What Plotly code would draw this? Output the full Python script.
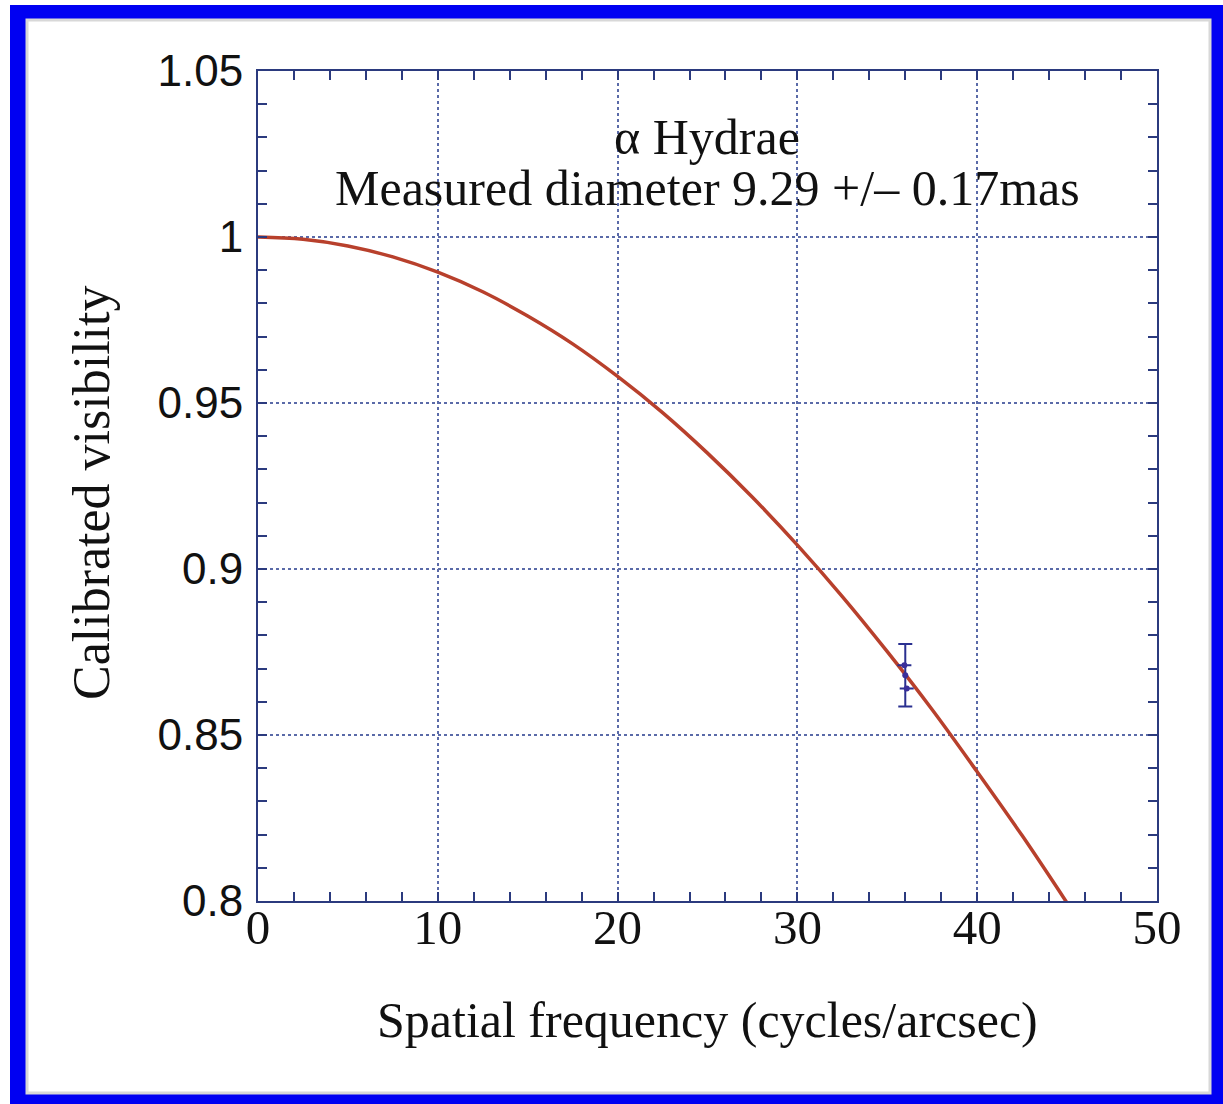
import plotly.graph_objects as go

# Model visibility curve
freq = [0, 2.5, 5, 7.5, 10, 12.5, 15, 17.5, 20, 22.5, 25, 27.5, 30, 32.5, 35, 37.5, 40, 42.5, 45]
vis = [1.000, 0.9993, 0.9973, 0.9940, 0.9894, 0.9835, 0.9762, 0.9678, 0.9580, 0.9471,
       0.9349, 0.9216, 0.9072, 0.8917, 0.8751, 0.8576, 0.8389, 0.8197, 0.7994]

# Measured points
meas_freq = [35.95, 36.0, 36.08]
meas_vis = [0.871, 0.868, 0.864]
meas_err = [0.0, 0.0094, 0.0]

title_lines = ["α Hydrae", "Measured diameter 9.29 +/– 0.17mas"]

W, H = 1223, 1104
L, R, T, B = 258, 66, 71, 203
pw, ph = W - L - R, H - T - B


def px(x):
    return (x - L) / pw


def py(y):
    return (H - B - y) / ph


fig = go.Figure()
fig.add_trace(go.Scatter(x=freq, y=vis, mode="lines", line=dict(color="#b8402c", width=3.5, shape="spline"),
                         hoverinfo="skip", showlegend=False))
fig.add_trace(go.Scatter(x=meas_freq, y=meas_vis, mode="markers",
                         marker=dict(color="#3a2f9a", size=6),
                         error_y=dict(type="data", array=meas_err, color="#2a3090", thickness=2, width=7),
                         showlegend=False))

axis_color = "#2b3a7e"
grid_color = "#5a6aa8"
common = dict(showline=True, linecolor=axis_color, linewidth=2, mirror="ticks", ticks="inside",
              ticklen=9, tickwidth=1.5, tickcolor=axis_color, showgrid=True, gridcolor=grid_color,
              griddash="dot", gridwidth=1.5, zeroline=False)

fig.update_xaxes(range=[0, 50], dtick=10, tick0=0,
                 tickfont=dict(family="Liberation Serif", size=49, color="#111"),
                 ticklabelstandoff=-18,
                 minor=dict(dtick=2, ticks="inside", ticklen=9, tickcolor=axis_color, showgrid=False),
                 **common)
fig.update_yaxes(range=[0.8, 1.05], dtick=0.05, tick0=0.8,
                 tickfont=dict(family="Liberation Sans", size=44, color="#111"),
                 ticklabelstandoff=4,
                 minor=dict(dtick=0.01, ticks="inside", ticklen=9, tickcolor=axis_color, showgrid=False),
                 **common)

shapes = [
    dict(type="rect", xref="paper", yref="paper", x0=px(10), x1=px(W + 5), y0=py(5), y1=py(H + 5),
         fillcolor="#0000f2", line=dict(width=0), layer="below"),
    dict(type="rect", xref="paper", yref="paper", x0=px(27), x1=px(1210), y0=py(20), y1=py(1093),
         fillcolor="#ffffff", line=dict(color="#d8d8d8", width=3), layer="below"),
]

annotations = [
    dict(text=title_lines[0], xref="paper", yref="paper", x=px(707), y=py(137),
         xanchor="center", yanchor="middle", showarrow=False,
         font=dict(family="Liberation Serif", size=50, color="#111")),
    dict(text=title_lines[1], xref="paper", yref="paper", x=px(707), y=py(188),
         xanchor="center", yanchor="middle", showarrow=False,
         font=dict(family="Liberation Serif", size=50, color="#111")),
    dict(text="Spatial frequency (cycles/arcsec)", xref="paper", yref="paper",
         x=px(707), y=py(1020), xanchor="center", yanchor="middle", showarrow=False,
         font=dict(family="Liberation Serif", size=50, color="#111")),
    dict(text="Calibrated visibility", xref="paper", yref="paper", textangle=-90,
         x=px(92), y=py(493), xanchor="center", yanchor="middle", showarrow=False,
         font=dict(family="Liberation Serif", size=52, color="#111")),
]

fig.update_layout(width=W, height=H, margin=dict(l=L, r=R, t=T, b=B, autoexpand=False),
                  paper_bgcolor="white", plot_bgcolor="rgba(0,0,0,0)",
                  shapes=shapes, annotations=annotations, showlegend=False)

fig.write_html("out.html", config={"displayModeBar": False})
